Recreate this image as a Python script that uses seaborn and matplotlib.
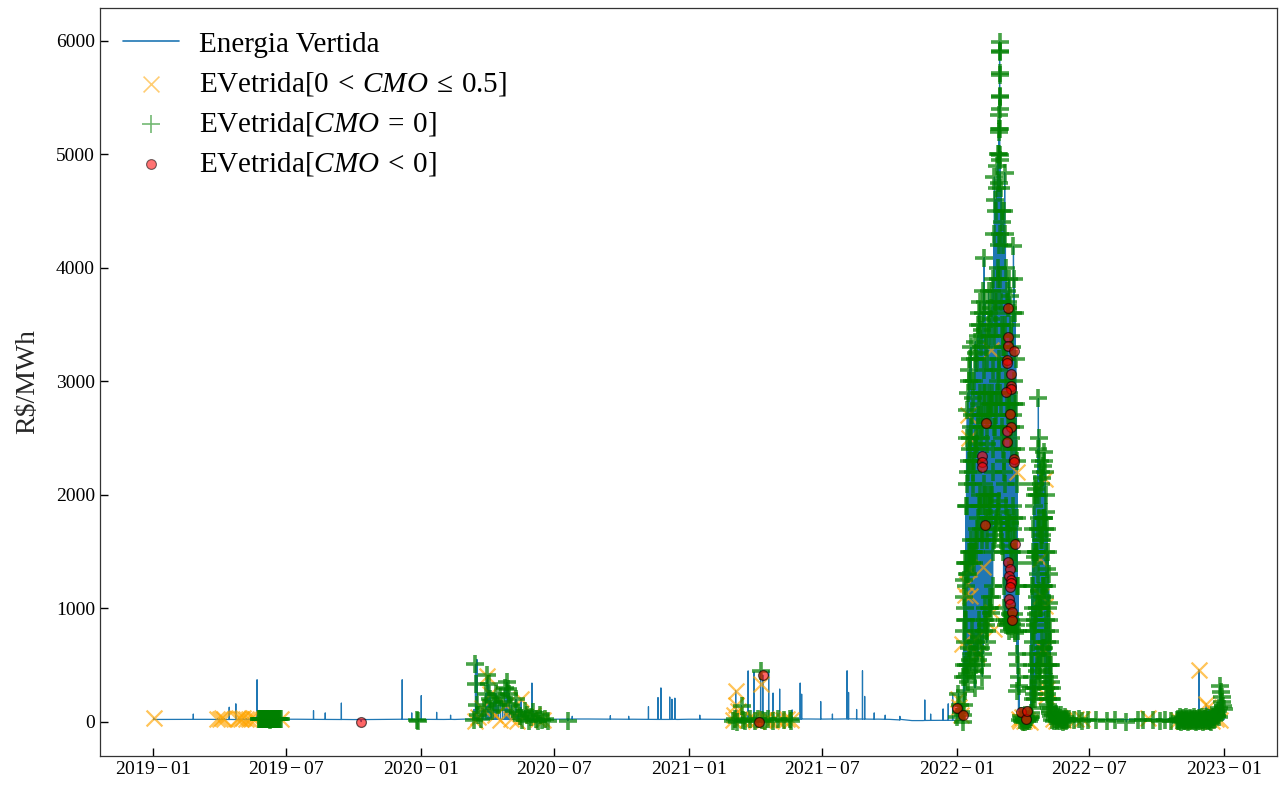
import numpy as np
import pandas as pd
import matplotlib
matplotlib.use("Agg")
import matplotlib.pyplot as plt
import matplotlib.dates as mdates
from matplotlib.ticker import FuncFormatter
import seaborn as sns

sns.set_theme(style="white")
plt.rcParams.update({
    "font.family": ["Liberation Serif", "DejaVu Serif"],
    "mathtext.fontset": "custom",
    "mathtext.rm": "Liberation Serif",
    "mathtext.it": "Liberation Serif:italic",
    "mathtext.bf": "Liberation Serif:bold",
    "axes.edgecolor": "#333333",
    "axes.linewidth": 0.9,
    "xtick.direction": "in",
    "ytick.direction": "in",
    "xtick.bottom": True,
    "ytick.left": True,
    "xtick.major.size": 6,
    "ytick.major.size": 6,
    "xtick.major.width": 1.0,
    "ytick.major.width": 1.0,
    "xtick.color": "black",
    "ytick.color": "black",
    "text.color": "black",
})

# ---------------------------------------------------------------- data
# monthly baseline level of the spilled-energy price (R$/MWh), 2019-01 .. 2022-12
base_month = pd.date_range("2019-01-01", "2022-12-01", freq="MS")
base_level = [22, 22, 23, 22, 21, 22, 24, 23, 22, 21, 22, 24,
              23, 22, 25, 24, 22, 23, 24, 26, 25, 24, 23, 22,
              24, 23, 25, 22, 23, 26, 25, 27, 25, 23, 12, 14,
              15, 20, 20, 20, 22, 22, 20, 21, 22, 24, 22, 20]

# isolated hourly spikes
spike_dates = ["2019-02-24", "2019-04-14", "2019-04-23", "2019-05-22", "2019-08-07",
               "2019-08-23", "2019-09-14", "2019-12-06", "2019-12-19", "2020-01-01",
               "2020-01-22", "2020-02-10", "2020-03-13", "2020-03-17", "2020-05-31",
               "2020-07-25", "2020-09-15", "2020-10-10", "2020-11-06", "2020-11-19",
               "2020-11-23", "2020-12-05", "2020-12-08", "2020-12-12", "2021-01-15",
               "2021-03-22", "2021-03-30", "2021-04-19", "2021-04-25", "2021-05-04",
               "2021-05-21", "2021-06-01", "2021-06-03", "2021-06-29", "2021-07-15",
               "2021-08-04", "2021-08-06", "2021-08-17", "2021-08-25", "2021-08-28",
               "2021-09-10", "2021-09-25", "2021-10-15", "2021-11-18", "2021-11-26",
               "2021-12-13", "2021-12-20", "2021-12-26", "2022-11-27", "2022-12-26"]
spike_values = [70, 130, 160, 372, 100,
                80, 167, 372, 80, 232,
                85, 60, 110, 550, 343,
                50, 55, 50, 135, 215,
                300, 220, 200, 210, 60,
                450, 440, 450, 255, 290,
                106, 343, 245, 180, 70,
                451, 260, 110, 451, 225,
                80, 60, 50, 194, 70,
                115, 160, 250, 460, 320]

# 2022 price surges, one row per day: daily low, two intermediate levels and daily high
surge1_start = "2022-01-10"
surge1_low = [60, 150, 270, 400, 500, 420, 350, 500, 650, 550,
              450, 600, 800, 700, 600, 450, 300, 500, 700, 650,
              550, 750, 900, 800, 650, 500, 400, 600, 800, 900,
              1000, 850, 700, 800, 900, 1000, 1100, 1000, 960, 1100,
              1200,
              1500, 1600, 1650, 1700, 1750, 1800, 1850, 1900, 1950, 1750, 1700, 1600, 1550, 1500,
              1200, 1000, 900, 850, 880, 900, 850, 800, 870, 950,
              900, 820, 860, 900, 950, 780, 800, 850, 600, 270]
surge1_mid_a = [400, 500, 700, 900, 1200, 1300, 1300, 1400, 1500, 1500,
                1600, 1500, 1400, 1500, 1400, 1500, 1600, 1500, 1600, 1700,
                1800, 1900, 2000, 1900, 1700, 1600, 1700, 1900, 2100, 2000,
                1900, 1800, 1600, 1800, 2000, 1900, 1900, 2000, 1800, 2000,
                2200,
                2400, 2600, 2600, 2700, 2800, 2900, 3000, 3100, 3200, 2900, 2800, 2600, 2500, 2400,
                2200, 2300, 2100, 1900, 1800, 1700, 1700, 1800, 1750, 1600,
                1500, 1500, 1700, 1900, 1800, 1600, 1500, 1400, 1200, 500]
surge1_high = [1100, 1250, 1400, 1900, 2500, 2750, 2900, 3000, 3100, 3200,
               3300, 3000, 2700, 2850, 3000, 3200, 3350, 3250, 3200, 3400,
               3500, 3600, 3700, 3500, 3300, 3450, 3600, 3800, 4090, 3700,
               3400, 3300, 3200, 3500, 3800, 3600, 3400, 3550, 3650, 3800,
               3900,
               4300, 4800, 4600, 4500, 4700, 4900, 5000, 5200, 5400, 4950, 4700, 4500, 4400, 4200,
               4500, 4838, 4300, 4000, 3800, 3700, 3650, 3900, 3750, 3500,
               3400, 3300, 3600, 4190, 3900, 3600, 3200, 2800, 2300, 1200]
surge1_mid_b = [800, 900, 1000, 1400, 1900, 2100, 2200, 2300, 2400, 2500,
                2600, 2300, 2100, 2200, 2300, 2400, 2500, 2400, 2450, 2600,
                2700, 2800, 2900, 2700, 2500, 2600, 2700, 2900, 3100, 2900,
                2700, 2600, 2450, 2700, 2900, 2800, 2700, 2800, 2800, 2900,
                3100,
                3400, 3700, 3600, 3500, 3700, 3900, 4000, 4200, 4300, 3900, 3700, 3500, 3400, 3300,
                3300, 3500, 3200, 3000, 2800, 2700, 2700, 2900, 2800, 2600,
                2500, 2400, 2700, 3000, 2800, 2600, 2400, 2100, 1800, 800]

# hourly values on the day of the maximum
peak_day = "2022-02-28"
peak_day_values = [4750, 5000, 5220, 5350, 5510, 5720, 5900, 5990, 5910, 5700, 5500, 5220, 4990]

surge2_start = "2022-04-12"
surge2_low = [40, 80, 120, 200, 300, 250, 200, 300, 450, 500,
              600, 500, 350, 400, 500, 600, 700, 650, 650, 500,
              400, 300, 250, 200, 150, 120, 100, 80, 50]
surge2_mid_a = [300, 400, 500, 700, 800, 850, 900, 950, 1000, 1100,
                1300, 1150, 1000, 1000, 1000, 1100, 1200, 1200, 1200, 1100,
                900, 800, 700, 600, 500, 400, 300, 200, 120]
surge2_high = [900, 1200, 1500, 1700, 1900, 2000, 2100, 2050, 2000, 2400,
               2850, 2500, 2300, 2200, 2100, 2150, 2250, 2300, 2375, 2200,
               2000, 1850, 1700, 1500, 1300, 1050, 800, 500, 300]
surge2_mid_b = [600, 800, 1000, 1200, 1400, 1450, 1500, 1500, 1500, 1700,
                2000, 1800, 1700, 1600, 1600, 1650, 1800, 1800, 1800, 1700,
                1500, 1350, 1200, 1000, 900, 700, 500, 350, 200]

# hours with 0 < CMO <= 0.5
orange_dates = ["2019-01-01", "2019-03-29", "2019-04-01", "2019-04-04", "2019-04-07",
                "2019-04-24", "2019-04-27", "2019-04-30", "2019-05-03", "2019-05-07",
                "2019-05-11", "2019-05-15", "2019-05-19", "2019-06-24",
                "2020-03-14", "2020-03-18", "2020-03-24", "2020-03-31", "2020-04-04",
                "2020-04-10", "2020-04-18", "2020-04-25", "2020-05-02", "2020-05-10",
                "2020-05-16", "2020-05-22", "2020-06-01", "2020-06-08", "2020-06-15",
                "2021-03-02", "2021-03-03", "2021-03-05", "2021-03-06", "2021-03-08",
                "2021-03-12", "2021-03-20", "2021-03-28", "2021-04-02", "2021-04-08",
                "2021-04-12", "2021-04-16", "2021-04-22", "2021-04-30", "2021-05-08",
                "2021-05-14", "2021-05-20",
                "2022-01-02", "2022-01-04", "2022-01-06", "2022-03-26", "2022-03-28",
                "2022-03-31", "2022-04-03", "2022-04-07", "2022-04-10", "2022-05-12",
                "2022-05-16", "2022-05-20", "2022-05-25", "2022-06-12", "2022-06-20",
                "2022-09-19", "2022-10-30", "2022-11-05", "2022-11-12", "2022-11-20",
                "2022-11-27", "2022-12-01", "2022-12-07", "2022-12-10", "2022-12-15",
                "2022-12-20", "2022-12-26"]
orange_values = [35, 30, 28, 32, 30,
                 30, 33, 28, 31, 30,
                 29, 32, 28, 30,
                 10, 40, 120, 405, 250,
                 60, 20, 150, 30, 10,
                 200, 50, 60, 30, 15,
                 20, 60, 275, 150, 100,
                 30, 20, 30, 10, 334,
                 20, 25, 10, 20, 15,
                 25, 20,
                 200, 130, 60, 30, 10,
                 40, 5, 20, 0, 30,
                 10, 40, 20, 30, 25,
                 35, 20, 10, 25, 5,
                 460, 20, 160, 130, 10,
                 30, 20]
# 0 < CMO <= 0.5 hours inside the 2022 surges
orange_surge_dates = ["2022-01-08", "2022-01-12", "2022-01-15", "2022-01-17", "2022-01-19",
                      "2022-01-16", "2022-01-18", "2022-01-28", "2022-01-25", "2022-02-05",
                      "2022-02-18", "2022-02-20", "2022-02-16", "2022-03-24",
                      "2022-04-24", "2022-04-25", "2022-05-01", "2022-04-28", "2022-05-01",
                      "2022-05-02", "2022-05-04"]
orange_surge_values = [690, 1120, 1214, 1346, 1108,
                       2700, 2500, 600, 730, 1364,
                       967, 820, 3280, 2200,
                       1434, 1108, 1020, 640, 2140,
                       230, 290]

# hours with CMO = 0 outside the surges (every surge hour also has CMO = 0)
green_dates = ["2019-12-26", "2019-12-28",
               "2020-03-13", "2020-03-15", "2020-03-16", "2020-03-17", "2020-03-19",
               "2020-03-22", "2020-03-26", "2020-03-29", "2020-03-31", "2020-04-02",
               "2020-04-04", "2020-04-06", "2020-04-09", "2020-04-12", "2020-04-15",
               "2020-04-18", "2020-04-21", "2020-04-24", "2020-04-27", "2020-04-28",
               "2020-04-30", "2020-05-03", "2020-05-06", "2020-05-09", "2020-05-12",
               "2020-05-15", "2020-05-18", "2020-05-21", "2020-05-24", "2020-05-27",
               "2020-05-30", "2020-06-02", "2020-06-05", "2020-06-08", "2020-06-11",
               "2020-06-14", "2020-06-18", "2020-06-22", "2020-07-19",
               "2021-03-01", "2021-03-04", "2021-03-07", "2021-03-13", "2021-03-15",
               "2021-03-18", "2021-03-24", "2021-04-01", "2021-04-05", "2021-04-08",
               "2021-04-10", "2021-04-14", "2021-04-18", "2021-04-25", "2021-05-02",
               "2021-05-10", "2021-05-18", "2021-05-20",
               "2022-01-01", "2022-01-03", "2022-01-05", "2022-01-07", "2022-01-09",
               "2022-06-03", "2022-06-10", "2022-06-16", "2022-06-20", "2022-06-29",
               "2022-07-09", "2022-07-25", "2022-08-05", "2022-08-20", "2022-09-05",
               "2022-09-12", "2022-09-25", "2022-10-05", "2022-10-12", "2022-10-20"]
green_values = [20, 5,
                20, 510, 335, 150, 60,
                30, 120, 250, 410, 330,
                200, 100, 180, 250, 150,
                220, 180, 300, 350, 290,
                250, 150, 100, 200, 80,
                50, 20, 100, 60, 10,
                40, 90, 30, 10, 60,
                20, 30, 10, 10,
                10, 30, 0, 143, 20,
                5, 30, 10, 30, 450,
                20, 5, 30, 10, 25,
                15, 30, 10,
                40, 250, 150, 90, 0,
                30, 20, 30, 10, 20,
                20, 10, 20, 0, 20,
                15, 20, 10, 20, 10]

# runs of consecutive days with CMO = 0 (one value per day from the start date)
green_run_2019_start = "2019-05-24"
green_run_2019 = [25, 28, 22, 30, 26, 24, 27, 23, 29, 25, 22, 28, 26, 24, 27, 21,
                  30, 25, 23, 28, 26, 22, 29, 24, 27, 25, 23, 28, 26, 24, 22]
green_run_mar22_start = "2022-03-26"
green_run_mar22 = [400, 320, 20, 50, 10, 35, 0, 30, 15, 0, 40, 20, 5, 30, 10, 25, 40]
green_run_may22_start = "2022-05-11"
green_run_may22 = [20, 60, 10, 50, 30, 70, 20, 5, 40, 25, 10, 35, 60, 20, 0, 30,
                   15, 40, 10, 25, 20]
green_run_nov22_start = "2022-10-28"
green_run_nov22 = [20, 5, 30, 10, 40, 15, 0, 25, 35, 10,
                   20, 5, 30, 45, 15, 0, 25, 10, 35, 20,
                   5, 30, 15, 40, 10, 25, 0, 30, 20, 10,
                   35, 5, 25, 15, 40, 20, 0, 30, 10, 25,
                   45, 15, 5, 35, 20, 10, 30, 0, 25, 40,
                   15, 40, 30, 60, 80, 50, 100, 40, 120, 320,
                   260, 220, 180, 140, 110]

# hours with CMO < 0
red_dates = ["2019-10-11", "2021-04-06", "2021-04-11",
             "2022-01-01", "2022-01-09",
             "2022-02-09", "2022-02-04", "2022-02-04", "2022-02-04", "2022-02-08",
             "2022-03-11", "2022-03-11", "2022-03-11", "2022-03-20", "2022-03-10",
             "2022-03-10", "2022-03-15", "2022-03-15", "2022-03-15", "2022-03-14",
             "2022-03-15", "2022-03-09", "2022-03-10", "2022-03-10", "2022-03-20",
             "2022-03-20", "2022-03-21", "2022-03-12", "2022-03-14", "2022-03-13",
             "2022-03-15", "2022-03-16", "2022-03-14", "2022-03-13", "2022-03-14",
             "2022-03-17", "2022-03-17",
             "2022-03-29", "2022-04-05", "2022-04-06"]
red_values = [3, 3, 413,
              123, 64,
              2630, 2343, 2287, 2243, 1733,
              3648, 3390, 3310, 3264, 3190,
              3165, 3061, 2955, 2930, 2710,
              2595, 2903, 2560, 2463, 2313,
              2290, 1566, 1408, 1346, 1285,
              1250, 1220, 1188, 1082, 1038,
              970, 897,
              91, 26, 100]

# ---------------------------------------------------------------- series assembly
HOUR = pd.Timedelta(hours=1)


def surge_points(start, low, mid_a, high, mid_b):
    days = pd.date_range(start, periods=len(low), freq="D")
    t, v = [], []
    for d, lo, ma, hi, mb in zip(days, low, mid_a, high, mid_b):
        t += [d, d + 6 * HOUR, d + 12 * HOUR, d + 18 * HOUR]
        v += [lo, ma, hi, mb]
    return t, v


def daily_run(start, values):
    days = pd.date_range(start, periods=len(values), freq="D")
    return [d.strftime("%Y-%m-%d") for d in days], list(values)


s1_t, s1_v = surge_points(surge1_start, surge1_low, surge1_mid_a, surge1_high, surge1_mid_b)
s2_t, s2_v = surge_points(surge2_start, surge2_low, surge2_mid_a, surge2_high, surge2_mid_b)
pk_t = [pd.Timestamp(peak_day) + (7 + i) * HOUR for i in range(len(peak_day_values))]

surge_t = s1_t + pk_t + s2_t
surge_v = s1_v + peak_day_values + s2_v
windows = [(min(s1_t), max(s1_t) + 4 * HOUR), (min(s2_t), max(s2_t) + 4 * HOUR)]

g_dates, g_values = list(green_dates), list(green_values)
for start, run in [(green_run_2019_start, green_run_2019),
                   (green_run_mar22_start, green_run_mar22),
                   (green_run_may22_start, green_run_may22),
                   (green_run_nov22_start, green_run_nov22)]:
    d, v = daily_run(start, run)
    g_dates += d
    g_values += v


def inside(t):
    return any(a <= t <= b for a, b in windows)


base_t = list(base_month) + [pd.Timestamp("2022-12-31")]
base_v = base_level + [base_level[-1]]
base_x = np.array([t.value for t in base_t], dtype=float)


def base_at(t):
    return float(np.interp(t.value, base_x, base_v))


line_t, line_v = [], []
for t, v in zip(base_t, base_v):
    if not inside(t):
        line_t.append(t)
        line_v.append(v)
    mid = t + pd.Timedelta(days=15)
    if mid <= base_t[-1] and not inside(mid):
        line_t.append(mid)
        line_v.append(v)

event_dates = spike_dates + orange_dates + g_dates + red_dates
event_values = spike_values + orange_values + g_values + red_values
for d, v in zip(event_dates, event_values):
    t = pd.Timestamp(d) + 12 * HOUR
    if inside(t):
        continue
    b = base_at(t)
    line_t += [t - 3 * HOUR, t, t + 3 * HOUR]
    line_v += [b, v, b]

line_t += surge_t
line_v += surge_v
line = pd.DataFrame({"t": line_t, "v": line_v}).sort_values("t", kind="stable")

orange = pd.DataFrame({
    "t": pd.to_datetime(orange_dates + orange_surge_dates) + 12 * HOUR,
    "v": orange_values + orange_surge_values})
green = pd.DataFrame({
    "t": list(pd.to_datetime(g_dates) + 12 * HOUR) + surge_t,
    "v": g_values + surge_v})
red = pd.DataFrame({"t": pd.to_datetime(red_dates) + 12 * HOUR, "v": red_values})

# ---------------------------------------------------------------- figure
fig, ax = plt.subplots(figsize=(12.8, 7.85), dpi=100)
fig.subplots_adjust(left=0.078, right=0.998, bottom=0.037, top=0.99)

sns.lineplot(data=line, x="t", y="v", estimator=None, sort=False,
             color="#1f77b4", linewidth=0.9, label="Energia Vertida", ax=ax, zorder=2)
sns.scatterplot(data=orange, x="t", y="v", marker="x", color="orange", s=130,
                alpha=0.65, linewidth=1.6, label=r"EVetrida$[0\:<\:CMO\:\leq\:0.5]$",
                ax=ax, zorder=3)
sns.scatterplot(data=green, x="t", y="v", marker="+", color="green", s=150,
                alpha=0.72, linewidth=2.6, label=r"EVetrida$[CMO\:=\:0]$", ax=ax, zorder=4)
sns.scatterplot(data=red, x="t", y="v", marker="o", color="red", edgecolor="black",
                s=50, alpha=0.6, linewidth=0.9, label=r"EVetrida$[CMO\:<\:0]$",
                ax=ax, zorder=5)

ax.set_xlabel("")
ax.set_ylabel("R$/MWh", fontsize=20, labelpad=11)
ax.xaxis.set_major_locator(mdates.MonthLocator(bymonth=(1, 7)))
ax.xaxis.set_major_formatter(FuncFormatter(
    lambda x, pos: mdates.num2date(x).strftime("$%Y-%m$")))
ax.tick_params(axis="both", labelsize=14, direction="in", length=6,
               top=False, right=False)
for side in ("top", "right", "left", "bottom"):
    ax.spines[side].set_visible(True)

leg = ax.legend(loc="upper left", frameon=False, fontsize=21, labelspacing=0.42,
                handlelength=1.9, handletextpad=0.7, borderaxespad=0.4)
leg.legend_handles[0].set_linewidth(1.2)
for h in leg.legend_handles[1:]:
    h.set_alpha(0.55)
    h.set_linewidth(1.2)
leg.legend_handles[3].set_linewidth(0.8)

fig.savefig("out.png", dpi=100)
